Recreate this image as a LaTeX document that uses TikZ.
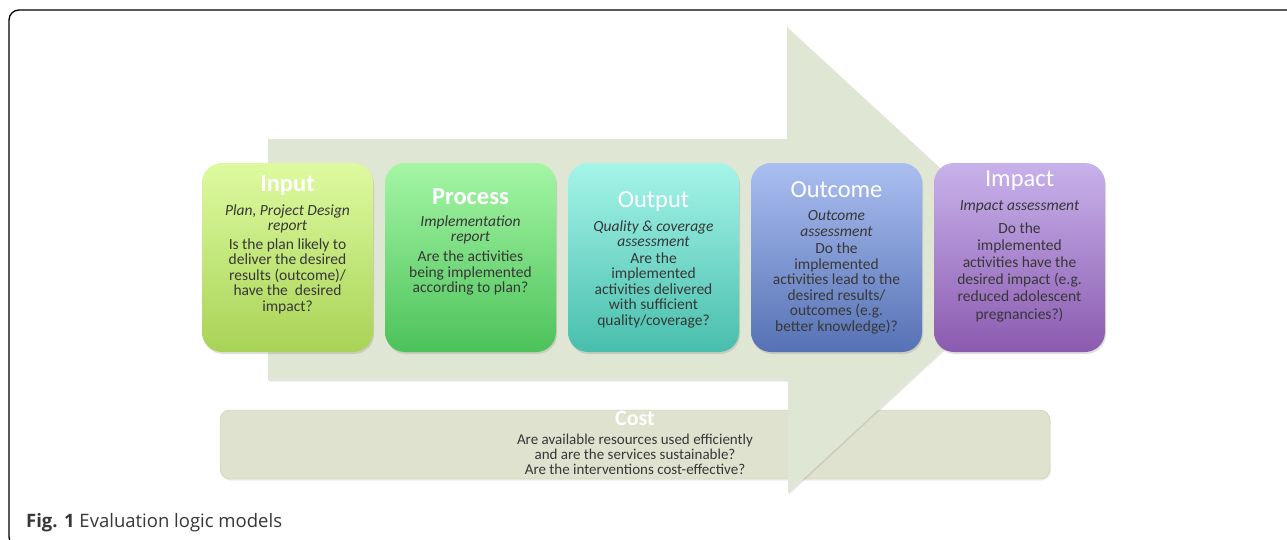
\documentclass[tikz,border=0pt]{standalone}
\usepackage{fontspec}
\setmainfont{Carlito}
\newfontfamily\captionfont{Open Sans}
\usepackage{tikz}
\usetikzlibrary{shadows}

\definecolor{arrowgreen}{RGB}{223,230,211}
\definecolor{costfill}{RGB}{224,226,208}
\definecolor{costline}{RGB}{205,200,160}
\definecolor{textgray}{RGB}{55,55,55}
\definecolor{inputtop}{RGB}{222,250,160}
\definecolor{inputbot}{RGB}{168,211,86}
\definecolor{processtop}{RGB}{165,246,165}
\definecolor{processbot}{RGB}{76,194,90}
\definecolor{outputtop}{RGB}{165,245,233}
\definecolor{outputbot}{RGB}{72,190,172}
\definecolor{outcometop}{RGB}{170,190,240}
\definecolor{outcomebot}{RGB}{86,114,181}
\definecolor{impacttop}{RGB}{200,178,235}
\definecolor{impactbot}{RGB}{139,90,176}

\begin{document}
\begin{tikzpicture}[x=1pt,y=-1pt,
  stage/.style={rounded corners=20pt, minimum width=171pt, minimum height=189pt, inner sep=0pt,
    drop shadow={opacity=0.25, shadow xshift=1pt, shadow yshift=-2pt}},
  title/.style={text=white, inner sep=0pt, font=\fontsize{24.5}{26}\selectfont},
  sub/.style={text=textgray, inner sep=0pt, align=center, font=\fontsize{15.5}{15.5}\selectfont\itshape},
  ask/.style={text=textgray, inner sep=0pt, align=center, font=\fontsize{15.5}{15.5}\selectfont}]
\useasboundingbox (0,0) rectangle (1287,539);
\draw[line width=1.3pt, rounded corners=10pt] (1300,10) -- (9,10) -- (9,547) -- (40,547);

% cost bar behind the arrow
\node[fill=costfill, draw=costline, rounded corners=10pt, minimum width=830pt, minimum height=69pt,
  drop shadow={opacity=0.15, shadow xshift=1pt, shadow yshift=-1.5pt}] (cost) at (635,444.5) {};
\node[title, font=\fontsize{22}{22}\selectfont\bfseries] (costtitle) at (635,418) {Cost};
\node[ask, font=\fontsize{15}{15}\selectfont] (costtext) at (635,454) {Are available resources used efficiently\\
  and are the services sustainable?\\ Are the interventions cost-effective?};

% big arrow
\fill[arrowgreen, drop shadow={opacity=0.2, shadow xshift=1pt, shadow yshift=-1.5pt}]
  (268,139) -- (787,139) -- (787,27) -- (1040,260) -- (788,493) -- (788,380) -- (268,380) -- cycle;

% stages
\node[stage, top color=inputtop, bottom color=inputbot] (input) at (287.5,257.5) {};
\node[stage, top color=processtop, bottom color=processbot] (process) at (470.5,257.5) {};
\node[stage, top color=outputtop, bottom color=outputbot] (output) at (653.5,257.5) {};
\node[stage, top color=outcometop, bottom color=outcomebot] (outcome) at (836.5,257.5) {};
\node[stage, top color=impacttop, bottom color=impactbot] (impact) at (1019.5,257.5) {};

\node[title, font=\fontsize{24.5}{26}\selectfont\bfseries] (inputtitle) at (287.5,185) {Input};
\node[sub] (inputsub) at (287.5,219) {Plan, Project Design\\ report};
\node[ask] (inputask) at (287.5,276) {Is the plan likely to\\ deliver the desired\\ results (outcome)/\\ have the~ desired\\ impact?};

\node[title, font=\fontsize{24.5}{26}\selectfont\bfseries] (processtitle) at (470.5,197) {Process};
\node[sub] (processsub) at (470.5,230) {Implementation\\ report};
\node[ask] (processask) at (470.5,273) {Are the activities\\ being implemented\\ according to plan?};

\node[title] (outputtitle) at (653.5,202) {Output};
\node[sub] (outputsub) at (653.5,233.5) {Quality \& coverage\\ assessment};
\node[ask] (outputask) at (653.5,290) {Are the\\ implemented\\ activities delivered\\ with sufficient\\ quality/coverage?};

\node[title] (outcometitle) at (836.5,190) {Outcome};
\node[sub] (outcomesub) at (836.5,223.5) {Outcome\\ assessment};
\node[ask] (outcomeask) at (836.5,288.5) {Do the\\ implemented\\ activities lead to the\\ desired results/\\ outcomes (e.g.\\ better knowledge)?};

\node[title] (impacttitle) at (1019.5,181) {Impact};
\node[sub] (impactsub) at (1019.5,207) {Impact assessment};
\node[ask, font=\fontsize{15.5}{17.2}\selectfont] (impactask) at (1019.5,272) {Do the\\ implemented\\ activities have the\\ desired impact (e.g.\\ reduced adolescent\\ pregnancies?)};

% caption
\node[anchor=base west, inner sep=0pt, text=textgray, font=\captionfont\fontsize{18.5}{20}\selectfont] (caption) at (26,527)
  {\textbf{Fig. 1} Evaluation logic models};
\end{tikzpicture}
\end{document}
